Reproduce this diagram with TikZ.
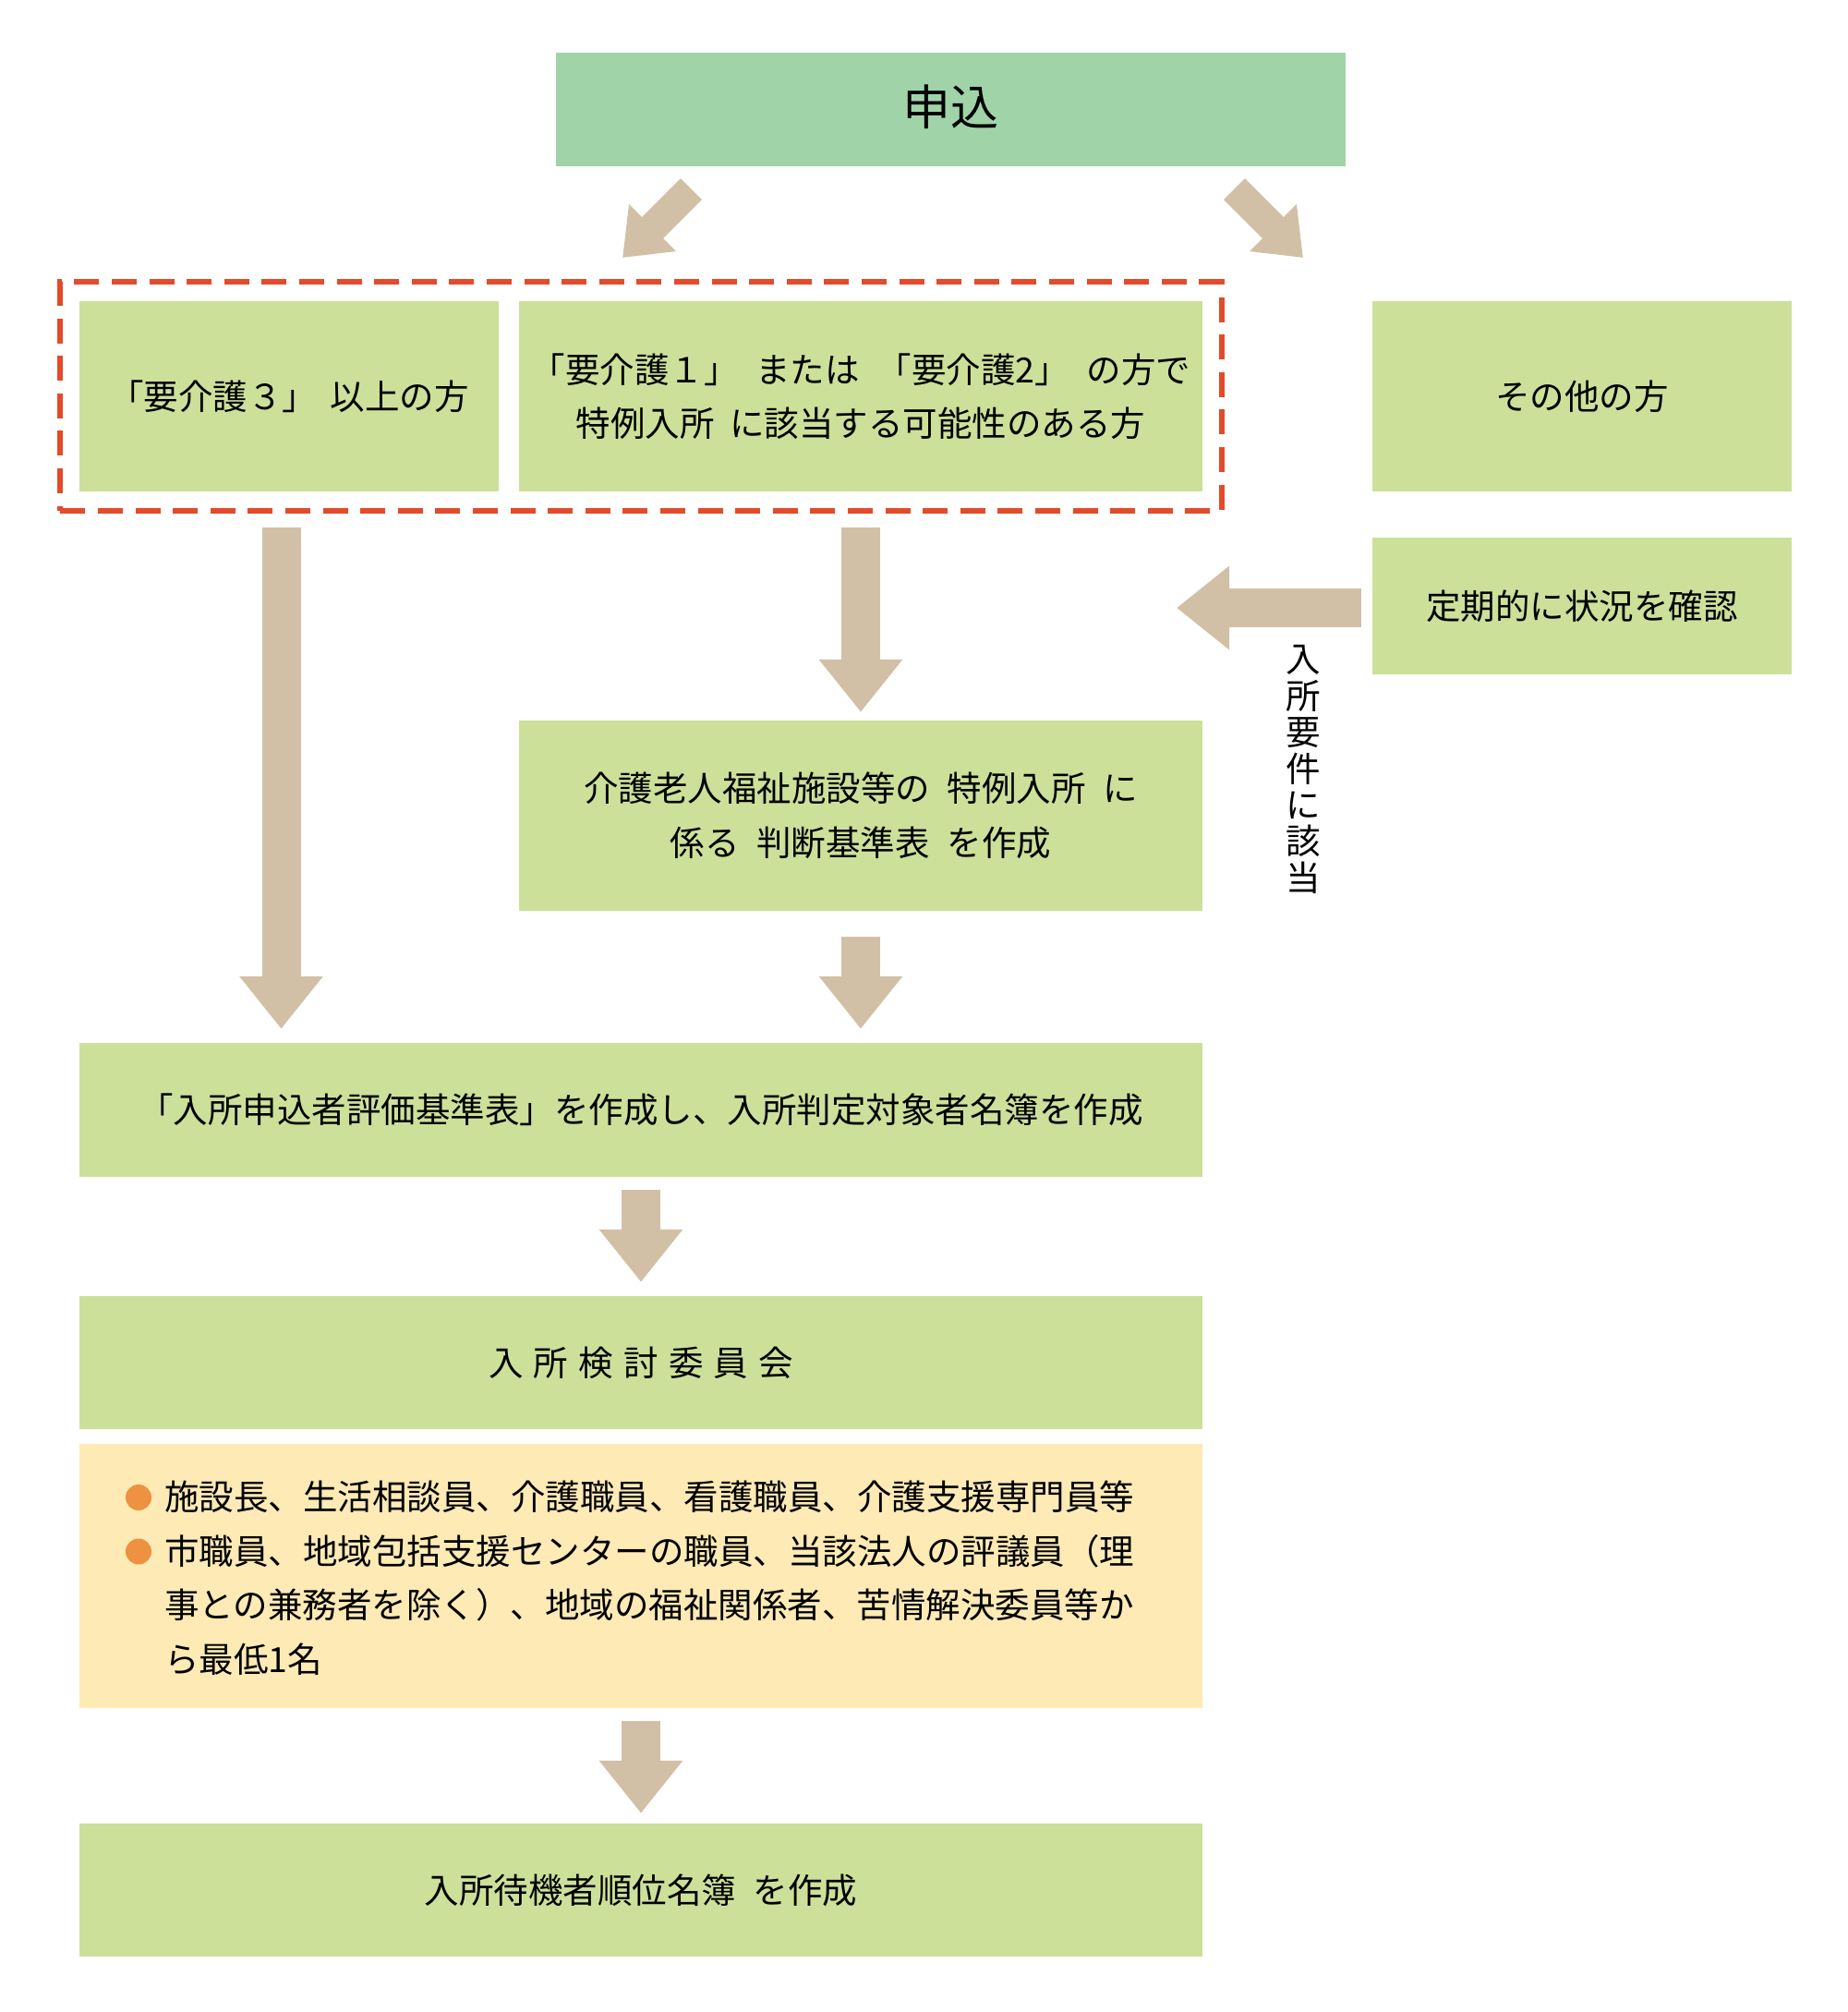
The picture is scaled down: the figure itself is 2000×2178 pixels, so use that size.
\documentclass[tikz,border=0pt]{standalone}
\usepackage{fontspec}
\setmainfont{Noto Sans CJK JP}
\usetikzlibrary{arrows.meta,calc,fit}
\definecolor{mgreen}{RGB}{160,212,168}
\definecolor{lgreen}{RGB}{205,224,154}
\definecolor{tanc}{RGB}{210,192,166}
\definecolor{cream}{RGB}{253,234,181}
\definecolor{dred}{RGB}{226,75,43}
\definecolor{bulletc}{RGB}{238,145,64}
\newcommand\gp[1]{\hspace{#1em}}
\begin{document}
\begin{tikzpicture}[x=1pt,y=-1pt,
  box/.style={rectangle, fill=lgreen, inner sep=0pt, align=center,
    font=\fontsize{37.5}{58.5}\selectfont},
  barrow/.style={draw=tanc, line width=42pt, -{Triangle[length=57pt,width=87pt]}},
  darrow/.style={draw=tanc, line width=32.5pt, -{Triangle[length=46pt,width=69pt]}},
  grpbox/.style={draw=dred, line width=6pt, dash pattern=on 27pt off 13.6pt, inner sep=20.5pt}
]
\useasboundingbox (0,0) rectangle (2000,2178);

% boxes
\node[box, fill=mgreen, minimum width=855pt, minimum height=123pt,
      font=\fontsize{52}{60}\selectfont, text depth=9pt] (M) at (1029.5,118.5) {申込};
\node[box, minimum width=454pt, minimum height=206pt] (A) at (313,429) {「要介護３」\gp{.4}以上の方};
\node[box, minimum width=740pt, minimum height=206pt] (B) at (932,429)
  {「要介護１」\gp{.5}または\gp{.5}「要介護2」\gp{.5}の方で\\特例入所\gp{.45}に該当する可能性のある方};
\node[box, minimum width=454pt, minimum height=206pt] (C) at (1713,429) {その他の方};
\node[box, minimum width=454pt, minimum height=148pt] (D) at (1713,656) {定期的に状況を確認};
\node[box, minimum width=740pt, minimum height=206pt] (E) at (932,883)
  {介護老人福祉施設等の\gp{.5}特例入所\gp{.5}に\\係る\gp{.5}判断基準表\gp{.5}を作成};
\node[box, minimum width=1216pt, minimum height=145pt] (F) at (694,1201.5)
  {「入所申込者評価基準表」を作成し、入所判定対象者名簿を作成};
\node[box, minimum width=1216pt, minimum height=144pt] (G) at (694,1475)
  {入\gp{.3}所\gp{.3}検\gp{.3}討\gp{.3}委\gp{.3}員\gp{.3}会};
\node[box, fill=cream, minimum width=1216pt, minimum height=286pt] (H) at (694,1706) {};
\node[box, minimum width=1216pt, minimum height=144pt] (I) at (694,2046)
  {入所待機者順位名簿\gp{.5}を作成};

% group frame
\node[grpbox, fit=(A)(B)] (grp) {};

% committee members text
\node[anchor=west, inner sep=0pt, align=left, font=\fontsize{37.5}{58.5}\selectfont] (Ht) at (178,1708)
  {施設長、生活相談員、介護職員、看護職員、介護支援専門員等\\
   市職員、地域包括支援センターの職員、当該法人の評議員（理\\
   事との兼務者を除く）、地域の福祉関係者、苦情解決委員等か\\
   ら最低1名};
\fill[bulletc] (150,1621) circle[radius=14pt];
\fill[bulletc] (150,1679.5) circle[radius=14pt];

% vertical label
\node[align=center, inner sep=0pt, font=\fontsize{37.5}{39.4}\selectfont] (V) at (1411,833)
  {入\\所\\要\\件\\に\\該\\当};

% arrows
\coordinate (tl) at (674,279);
\coordinate (tr) at (1411,279);
\coordinate (dtip) at (1274,658);
\draw[darrow] ($(M.south)+(-281,24.5)$) -- (tl);
\draw[darrow] ($(M.south)+(307,24.5)$) -- (tr);
\draw[barrow, shorten <=39pt, shorten >=15pt] ($(A.south)+(-8.5,0)$) -- ($(A.south |- F.north)+(-8.5,0)$);
\draw[barrow, shorten <=39pt, shorten >=9pt] (B.south) -- (E.north);
\draw[barrow, shorten <=28pt, shorten >=15pt] (E.south) -- (E.south |- F.north);
\draw[barrow, shorten <=14pt, shorten >=15pt] (F.south) -- (G.north);
\draw[barrow, shorten <=14pt, shorten >=11pt] (H.south) -- (I.north);
\draw[barrow, shorten <=11.5pt] ($(D.west)+(0,2)$) -- (dtip);
\end{tikzpicture}
\end{document}
